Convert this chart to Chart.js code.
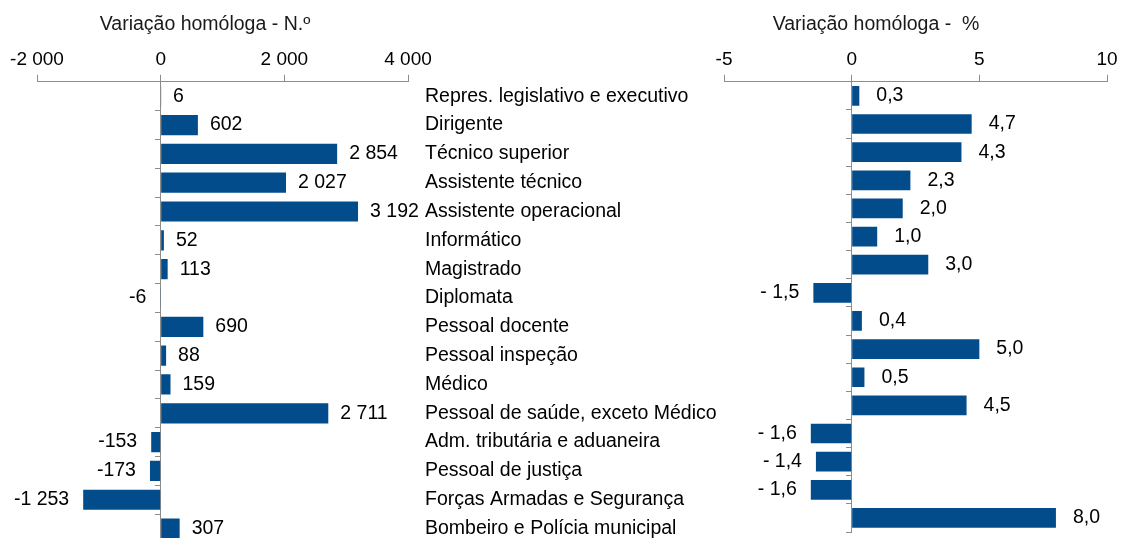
<!DOCTYPE html>
<html><head><meta charset="utf-8">
<script src="https://cdn.jsdelivr.net/npm/chart.js@4"></script>
<style>
html,body{margin:0;padding:0;background:#fff;width:1123px;height:538px;overflow:hidden;font-family:"Liberation Sans",Arial,sans-serif;}
.wrap{position:absolute;left:0;top:0;width:1123px;height:538px;}
canvas{position:absolute;left:0;top:0;}
.ttl{position:absolute;font-size:19.5px;color:#1a1a1a;white-space:pre;transform:translateX(-50%);top:12px;line-height:normal;}
</style></head>
<body>
<div class="wrap"><canvas id="c1" width="1123" height="550"></canvas></div>
<div class="wrap"><canvas id="c2" width="1123" height="538"></canvas></div>
<div class="ttl" style="left:205px">Variação homóloga - N.º</div>
<div class="ttl" style="left:876px">Variação homóloga -  %</div>
<script>
const categories = [
  "Repres. legislativo e executivo","Dirigente","Técnico superior","Assistente técnico",
  "Assistente operacional","Informático","Magistrado","Diplomata","Pessoal docente",
  "Pessoal inspeção","Médico","Pessoal de saúde, exceto Médico","Adm. tributária e aduaneira",
  "Pessoal de justiça","Forças Armadas e Segurança","Bombeiro e Polícia municipal"
];
const variacaoNumero = [6, 602, 2854, 2027, 3192, 52, 113, -6, 690, 88, 159, 2711, -153, -173, -1253, 307];
const variacaoPercent = [0.3, 4.7, 4.3, 2.3, 2.0, 1.0, 3.0, -1.5, 0.4, 5.0, 0.5, 4.5, -1.6, -1.4, -1.6, 8.0];
const numTicksMin = -2000, numTicksMax = 4000, numStep = 2000;
const pctTicksMin = -5, pctTicksMax = 10, pctStep = 5;

const FONT = '"Liberation Sans", Arial, sans-serif';
const BAR = '#034c8c';
const AX = '#8c8c8c';

function fmtNum(v){
  const s = Math.abs(v).toString().replace(/\B(?=(\d{3})+(?!\d))/g,' ');
  return (v<0?'-':'') + s;
}
function fmtPct(v){
  const s = Math.abs(v).toFixed(1).replace('.',',');
  return (v<0?'- ':'') + s;
}

function labelPlugin(fmt, posGap, negGap, drawCats){
  return {
    id:'lbl',
    afterDatasetsDraw(chart){
      const ctx = chart.ctx;
      ctx.save();
      ctx.font = '19.5px ' + FONT;
      ctx.fillStyle = '#000';
      ctx.textBaseline = 'middle';
      const meta = chart.getDatasetMeta(0);
      const data = chart.data.datasets[0].data;
      meta.data.forEach((el,i)=>{
        const v = data[i];
        if (v >= 0){ ctx.textAlign='left'; ctx.fillText(fmt(v), el.x + posGap, el.y); }
        else { ctx.textAlign='right'; ctx.fillText(fmt(v), el.x - negGap, el.y); }
      });
      if (drawCats){
        const ys = chart.scales.y;
        ctx.textAlign='left';
        chart.data.labels.forEach((c,i)=>{
          ctx.fillText(c, 425, ys.getPixelForValue(i));
        });
      }
      ctx.restore();
    }
  };
}

function makeChart(id, values, min, max, step, padL, padR, padB, fmtTick, plugin){
  return new Chart(document.getElementById(id), {
    type:'bar',
    data:{ labels:categories, datasets:[{ data:values, backgroundColor:BAR, borderWidth:0, barPercentage:0.7, categoryPercentage:1 }]},
    options:{
      indexAxis:'y', responsive:false, animation:false,
      layout:{ padding:{ left:padL, right:padR, top:44, bottom:padB } },
      plugins:{ legend:{display:false}, tooltip:{enabled:false} },
      scales:{
        x:{ position:'top', min:min, max:max,
            ticks:{ stepSize:step, font:{size:19, family:FONT}, color:'#000', padding:4, maxRotation:0, callback:fmtTick },
            grid:{ drawOnChartArea:false, drawTicks:true, tickLength:7, color:AX, lineWidth:1 },
            border:{ color:AX, width:1 } },
        y:{ position:{x:0}, ticks:{display:false},
            grid:{ drawOnChartArea:false, drawTicks:true, tickLength:5, color:AX, offset:true },
            border:{ color:AX, width:1 } }
      }
    },
    plugins:[plugin]
  });
}

makeChart('c1', variacaoNumero, numTicksMin, numTicksMax, numStep, 37, 1123-408, 7,
  v=>fmtNum(v), labelPlugin(fmtNum, 12, 14, true));
makeChart('c2', variacaoPercent, pctTicksMin, pctTicksMax, pctStep, 724, 1123-1107, 6,
  v=>String(v), labelPlugin(fmtPct, 17, 14, false));
</script>
</body></html>
